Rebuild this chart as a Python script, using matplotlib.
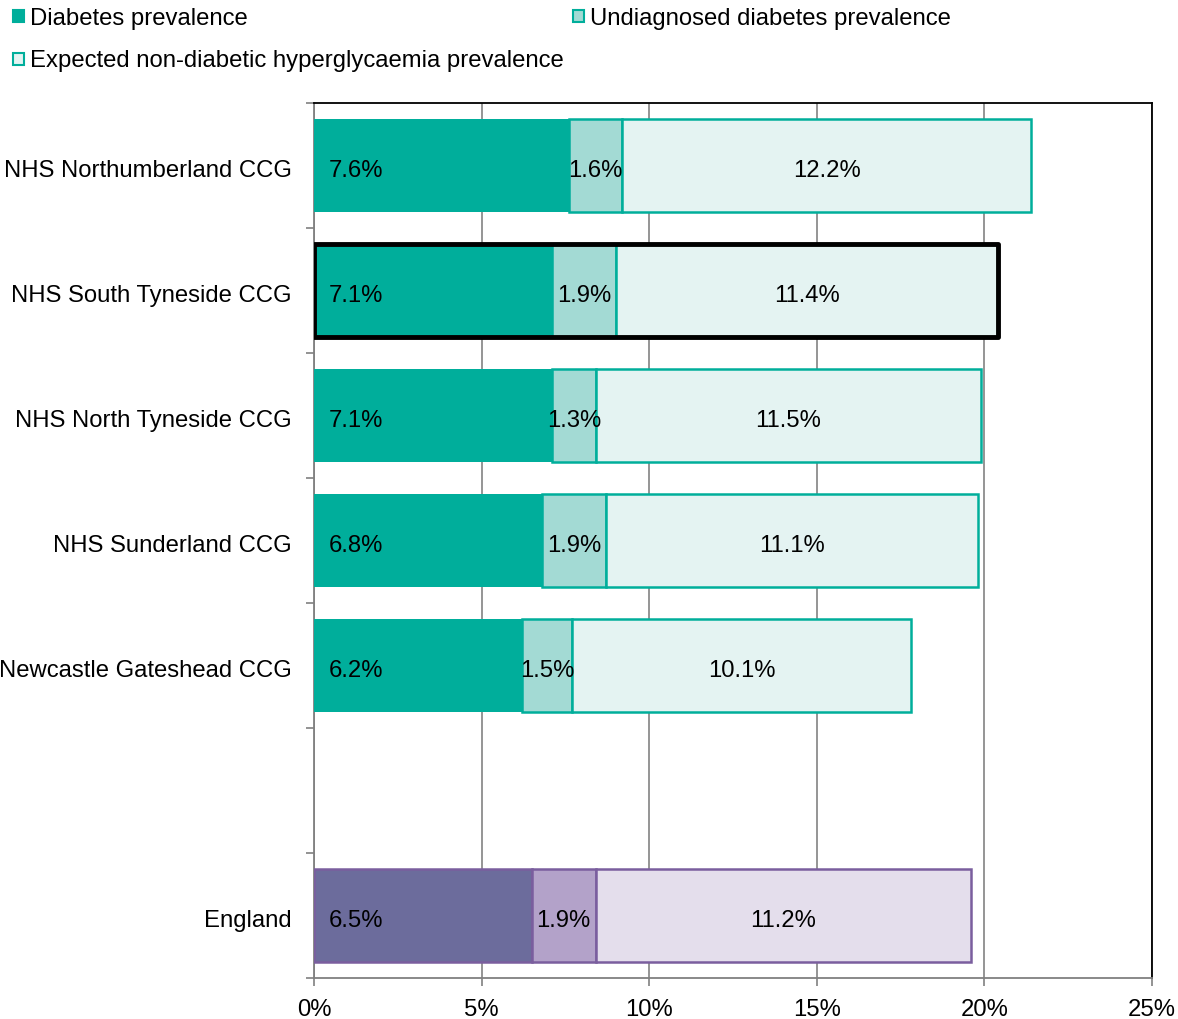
import matplotlib
matplotlib.use("Agg")
import matplotlib.pyplot as plt
from matplotlib.patches import Rectangle
from matplotlib.transforms import ScaledTranslation
import numpy as np

plt.rcParams['font.family'] = ['Liberation Sans', 'DejaVu Sans']

categories = ["NHS Northumberland CCG", "NHS South Tyneside CCG", "NHS North Tyneside CCG",
              "NHS Sunderland CCG", "Newcastle Gateshead CCG", "", "England"]
diabetes = [7.6, 7.1, 7.1, 6.8, 6.2, None, 6.5]
undiagnosed = [1.6, 1.9, 1.3, 1.9, 1.5, None, 1.9]
hyper = [12.2, 11.4, 11.5, 11.1, 10.1, None, 11.2]
series_names = ["Diabetes prevalence", "Undiagnosed diabetes prevalence",
                "Expected non-diabetic hyperglycaemia prevalence"]
xticks = [0, 5, 10, 15, 20, 25]
xticklabels = ["0%", "5%", "10%", "15%", "20%", "25%"]
highlight = "NHS South Tyneside CCG"

teal = ["#00AE9B", "#A3DAD4", "#E4F3F2"]
teal_edge = "#00AE9B"
purple = ["#6C6C9C", "#B3A2C9", "#E4DEEC"]
purple_edge = "#7A5E9E"

FS = 17.2
W, H = 1178, 1019
fig = plt.figure(figsize=(W / 100, H / 100), dpi=100)
ax = fig.add_axes([314 / W, 1 - 978 / H, (1152 - 314) / W, (978 - 103) / H])

bh = 0.75
for i, cat in enumerate(categories):
    if diabetes[i] is None:
        continue
    cols = purple if cat == "England" else teal
    ec = purple_edge if cat == "England" else teal_edge
    vals = [diabetes[i], undiagnosed[i], hyper[i]]
    left = 0
    for j, v in enumerate(vals):
        if j == 0 and cat != "England":
            ax.barh(i, v, left=left, height=bh, color=cols[j], edgecolor=cols[j], linewidth=0, zorder=3)
        else:
            ax.barh(i, v, left=left, height=bh, color=cols[j], edgecolor=ec, linewidth=1.8, zorder=3)
        if j == 0:
            ax.text(left + 0.45, i + 0.04, f"{v:.1f}%", va="center", ha="left", fontsize=FS, color="black", zorder=5)
        else:
            ax.text(left + v / 2, i + 0.04, f"{v:.1f}%", va="center", ha="center", fontsize=FS, color="black", zorder=5)
        left += v
    if cat == highlight:
        ax.add_patch(Rectangle((0, i - bh / 2), left, bh, fill=False, edgecolor="black",
                               linewidth=3.5, zorder=6, joinstyle="round"))

ax.set_xlim(0, 25)
ax.set_ylim(6.5, -0.5)
ax.set_xticks(xticks)
ax.set_xticklabels(xticklabels, fontsize=FS)
ax.set_yticks(range(len(categories)))
ax.set_yticklabels(categories, fontsize=FS)
ax.tick_params(axis='y', which='major', length=0, pad=16)
ax.set_yticks(np.arange(-0.5, 7.0, 1.0), minor=True)
ax.tick_params(axis='y', which='minor', length=6, color="#808080", width=1.2)
ax.tick_params(axis='x', which='major', length=6, color="#808080", width=1.2, pad=9)
off = ScaledTranslation(0, -3 / 100, fig.dpi_scale_trans)
for lab in ax.get_yticklabels():
    lab.set_transform(lab.get_transform() + off)
ax.grid(axis='x', color="#8C8C8C", linewidth=1.3, zorder=0)
ax.set_axisbelow(True)
for s in ["left", "bottom"]:
    ax.spines[s].set_color("#808080")
    ax.spines[s].set_linewidth(1.3)
for s in ["top", "right"]:
    ax.spines[s].set_color("black")
    ax.spines[s].set_linewidth(1.3)

# legend
legend_items = [(30, 16, 0), (590, 16, 1), (30, 59, 2)]
for x, y, k in legend_items:
    sz = 11
    fig.patches.append(Rectangle(((x - 17) / W, 1 - (y + sz / 2) / H), sz / W, sz / H,
                                 transform=fig.transFigure, facecolor=teal[k],
                                 edgecolor=teal_edge, linewidth=1.5))
    fig.text(x / W, 1 - (y + 2.5) / H, series_names[k], ha="left", va="center", fontsize=FS)

fig.savefig("out.png", dpi=100)
